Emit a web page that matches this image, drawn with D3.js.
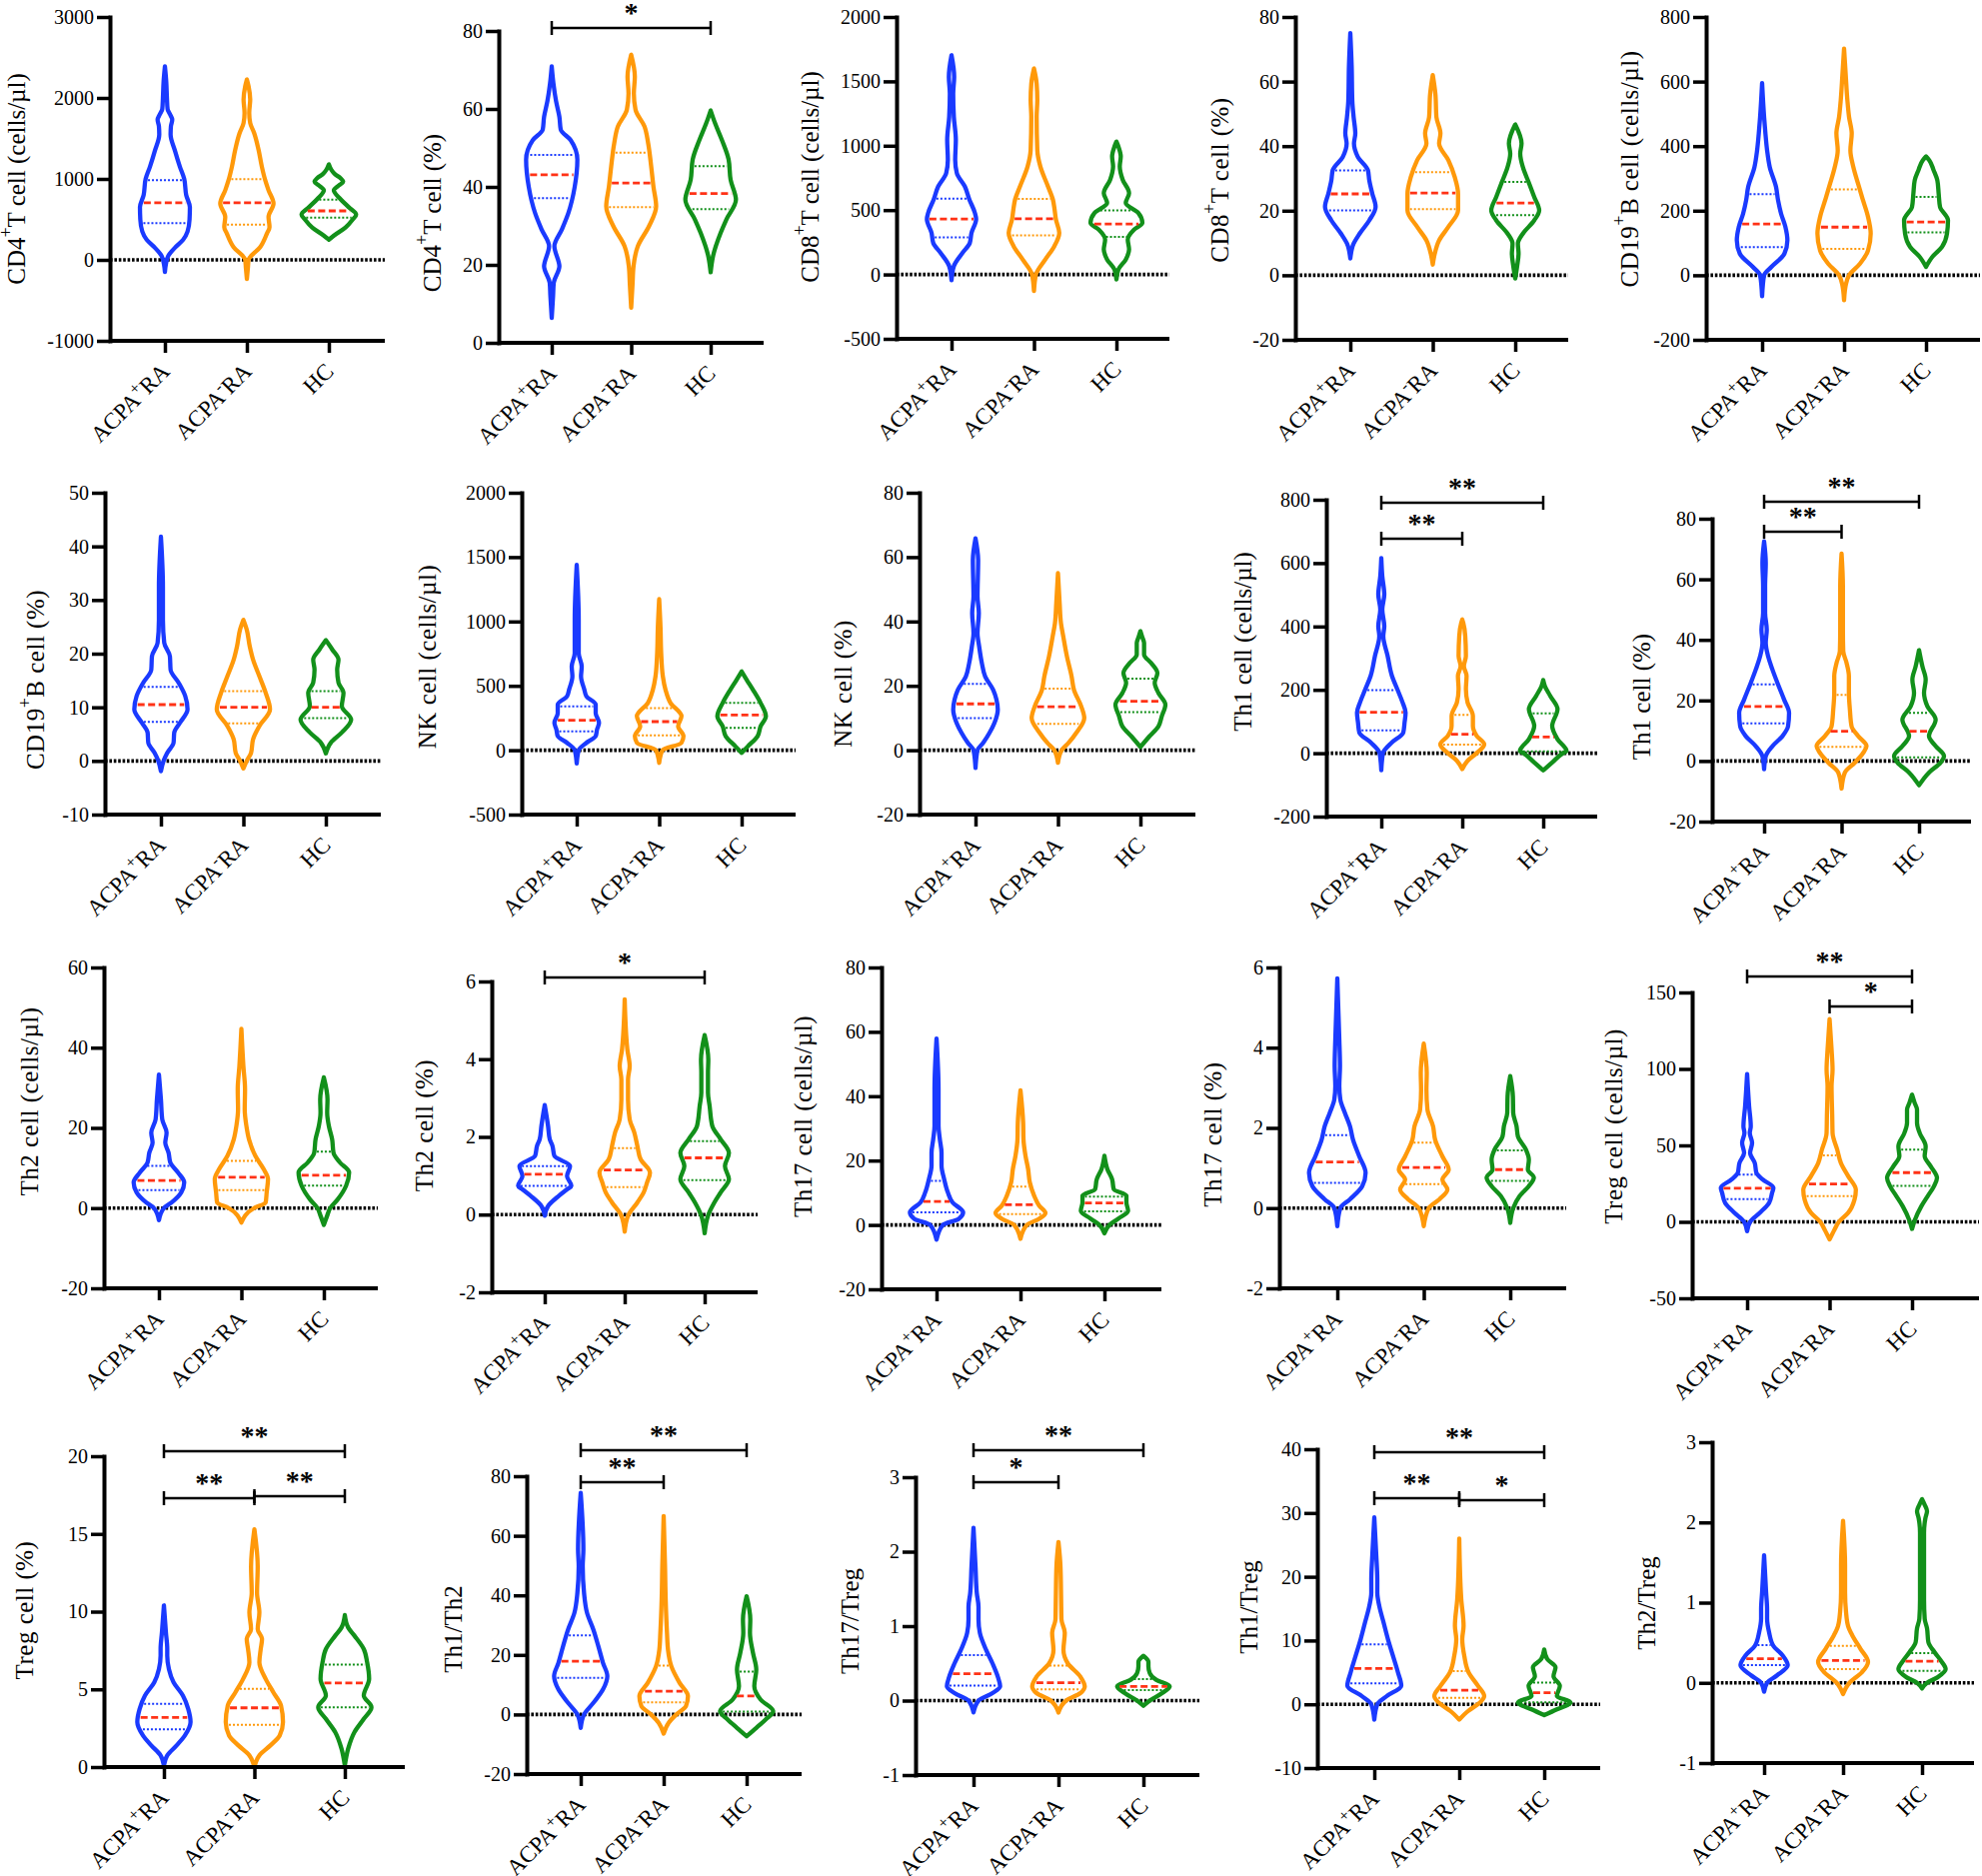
<!DOCTYPE html>
<html><head><meta charset="utf-8">
<script src="https://cdn.jsdelivr.net/npm/d3@7"></script>
<style>body{margin:0;background:#fff} svg{display:block}</style>
</head><body>
<svg id="chart" width="1983" height="1877"></svg>
<script>
// ---------------- DATA ----------------
const groups = ["ACPA+RA", "ACPA-RA", "HC"];
const groupLabels = ["ACPA^+^RA", "ACPA^-^RA", "HC"];

const yLabels = [
  "CD4^+^T cell (cells/µl)", "CD4^+^T cell (%)", "CD8^+^T cell (cells/µl)", "CD8^+^T cell (%)", "CD19^+^B cell (cells/µl)",
  "CD19^+^B cell (%)", "NK cell (cells/µl)", "NK cell (%)", "Th1 cell (cells/µl)", "Th1 cell (%)",
  "Th2 cell (cells/µl)", "Th2 cell (%)", "Th17 cell (cells/µl)", "Th17 cell (%)", "Treg cell (cells/µl)",
  "Treg cell (%)", "Th1/Th2", "Th17/Treg", "Th1/Treg", "Th2/Treg"
];

const yDomains = [
  [-1000, 3000], [0, 80], [-500, 2000], [-20, 80], [-200, 800],
  [-10, 50], [-500, 2000], [-20, 80], [-200, 800], [-20, 80],
  [-20, 60], [-2, 6], [-20, 80], [-2, 6], [-50, 150],
  [0, 20], [-20, 80], [-1, 3], [-10, 40], [-1, 3]
];

const yTickValues = [
  [-1000, 0, 1000, 2000, 3000], [0, 20, 40, 60, 80], [-500, 0, 500, 1000, 1500, 2000], [-20, 0, 20, 40, 60, 80], [-200, 0, 200, 400, 600, 800],
  [-10, 0, 10, 20, 30, 40, 50], [-500, 0, 500, 1000, 1500, 2000], [-20, 0, 20, 40, 60, 80], [-200, 0, 200, 400, 600, 800], [-20, 0, 20, 40, 60, 80],
  [-20, 0, 20, 40, 60], [-2, 0, 2, 4, 6], [-20, 0, 20, 40, 60, 80], [-2, 0, 2, 4, 6], [-50, 0, 50, 100, 150],
  [0, 5, 10, 15, 20], [-20, 0, 20, 40, 60, 80], [-1, 0, 1, 2, 3], [-10, 0, 10, 20, 30, 40], [-1, 0, 1, 2, 3]
];

// quartiles per panel: [q1, median, q3] for ACPA+RA, ACPA-RA, HC
const quartiles = [
  [[455, 705, 985], [435, 705, 998], [522, 605, 745]],
  [[37.1, 43.1, 48.2], [34.8, 41, 48.8], [34.3, 38.3, 45.3]],
  [[289, 431, 588], [304, 433, 586], [291, 392, 498]],
  [[20.1, 25.2, 32.5], [20.5, 25.5, 31.9], [18.6, 22.4, 28.9]],
  [[87, 159, 251], [82, 149, 266], [133, 165, 243]],
  [[7.3, 10.5, 13.8], [7, 10, 13], [8, 10, 13]],
  [[147, 233, 341], [116, 222, 326], [173, 274, 367]],
  [[10, 14.4, 20.6], [8.2, 13.5, 19.1], [11.8, 15.2, 22.2]],
  [[72, 129, 199], [27, 60, 121], [6, 51, 126]],
  [[12.4, 18, 25.3], [4.7, 9.8, 21.8], [1.2, 9.8, 15.9]],
  [[4.5, 6.9, 10.5], [4.5, 7.7, 11.8], [5.6, 8.2, 14.1]],
  [[0.74, 1.04, 1.25], [0.71, 1.15, 1.71], [0.89, 1.46, 1.89]],
  [[3.9, 7.3, 13.7], [3.4, 6.3, 11.9], [4.2, 6.8, 8.8]],
  [[0.63, 1.15, 1.82], [0.6, 1.01, 1.63], [0.68, 0.96, 1.44]],
  [[14.8, 22, 30.9], [16.8, 24.8, 43.5], [23.5, 32.2, 47.2]],
  [[2.42, 3.19, 4.06], [2.72, 3.81, 5.03], [3.85, 5.41, 6.59]],
  [[12.3, 17.9, 26.6], [4.1, 7.8, 16.4], [1, 6.2, 14.4]],
  [[0.2, 0.36, 0.61], [0.15, 0.24, 0.47], [0.14, 0.19, 0.29]],
  [[3.3, 5.6, 9.4], [1, 2.2, 5.2], [0.3, 1.8, 3.4]],
  [[0.22, 0.3, 0.47], [0.17, 0.28, 0.46], [0.15, 0.27, 0.37]]
];

// density profiles: [value, relative density]
const densCD4Count = [
  [[-150,0],[-50,3],[50,10],[150,30],[250,55],[350,68],[500,74],[650,75],[800,64],[1000,58],[1150,45],[1350,30],[1550,17],[1650,18],[1730,22],[1800,15],[1860,8],[2000,6],[2200,4],[2390,0]],
  [[-235,0],[-100,3],[0,5],[157,40],[323,60],[405,68],[530,65],[695,80],[860,65],[985,55],[1150,45],[1360,35],[1565,22],[1690,10],[1815,7],[1980,10],[2145,5],[2228,0]],
  [[250,0],[300,15],[400,50],[500,72],[560,82],[650,60],[750,35],[860,15],[920,30],[965,43],[1010,35],[1060,18],[1110,8],[1180,0]]
];
const densCD4Pct = [
  [[6.4,0],[12,4],[15.4,6],[19.6,23],[24.8,8],[29,30],[33.3,50],[40,69],[47,77],[52,57],[54.7,27],[58,23],[62,13],[66.6,5],[70.9,0]],
  [[9,0],[15,4],[19.6,7],[24.8,20],[30,54],[35,75],[40,67],[45.3,60],[51.2,51],[55.5,40],[59.8,13],[64,8],[68.3,11],[73.9,0]],
  [[18.1,0],[22.2,7],[28.2,30],[31.6,47],[36.7,76],[41.8,60],[47,54],[52,34],[56.4,13],[59.6,0]]
];
const densCD8Count = [
  [[-44,0],[65,7],[168,33],[245,55],[323,60],[430,74],[480,70],[580,54],[684,40],[787,16],[890,11],[1045,13],[1225,7],[1406,5],[1535,8],[1703,0]],
  [[-129,0],[0,6],[116,34],[219,61],[323,76],[426,66],[503,62],[580,57],[684,42],[840,19],[967,10],[1225,8],[1354,10],[1483,8],[1600,0]],
  [[-39,0],[39,6],[116,28],[194,38],[271,34],[348,53],[400,78],[477,66],[555,28],[632,38],[735,19],[840,10],[916,13],[993,6],[1032,0]]
];
const densCD8Pct = [
  [[5.2,0],[9.8,10],[12.9,28],[17,57],[21.2,76],[25.3,66],[29.4,57],[32.5,53],[36.6,23],[40.8,11],[43.9,15],[49,10],[54,6],[65,4],[75,0]],
  [[3.3,0],[6.7,6],[10.8,19],[15,47],[20.1,76],[25.3,76],[30.4,66],[35.6,47],[40.8,19],[43.9,23],[49,11],[56,8],[62,0]],
  [[-1,0],[3,6],[6.7,10],[9.8,8],[12.9,23],[17,57],[20.1,72],[24.3,57],[28.4,42],[33.5,23],[37.7,15],[40.8,19],[46.7,0]]
];
const densCD19Count = [
  [[-65,0],[0,6],[26,28],[67,67],[108,76],[150,70],[191,57],[232,48],[273,42],[335,23],[387,15],[439,10],[490,6],[595,0]],
  [[-77,0],[-26,6],[0,15],[36,48],[77,72],[129,80],[181,72],[232,57],[284,42],[335,28],[387,19],[439,23],[490,15],[542,10],[620,5],[702,0]],
  [[26,0],[57,19],[88,48],[129,63],[170,66],[212,42],[253,38],[294,34],[325,23],[356,10],[368,0]]
];
const densCD19Pct = [
  [[-1.9,0],[0,8],[1.5,19],[3.4,38],[5.3,40],[7.1,57],[9.6,80],[12.1,73],[14.6,53],[17,29],[19.5,27],[22,10],[26.3,6],[32.5,6],[41.8,0]],
  [[-1.4,0],[0,10],[1.5,23],[4,29],[6.5,48],[9.6,80],[12.7,67],[15.8,48],[18.9,29],[21.4,19],[24.5,10],[26.3,0]],
  [[1.4,0],[3.4,15],[5.3,48],[7.7,76],[10.2,48],[12.7,53],[14.6,38],[17,34],[18.9,38],[20.8,19],[22.5,0]]
];
const densNKCount = [
  [[-103,0],[0,6],[57,29],[109,57],[160,61],[212,67],[289,57],[354,57],[419,29],[470,23],[574,13],[651,15],[754,6],[1013,6],[1439,0]],
  [[-98,0],[0,10],[57,67],[109,73],[186,57],[264,67],[367,34],[470,19],[574,11],[754,6],[950,4],[1173,0]],
  [[-21,0],[31,19],[109,48],[186,57],[264,73],[367,57],[470,34],[548,15],[612,0]]
];
const densNKPct = [
  [[-5.5,0],[0,6],[2.3,23],[5.4,42],[8.5,57],[12.6,67],[15.7,63],[18.8,53],[22.9,29],[27.1,19],[32.2,11],[36.4,6],[42.6,10],[47.8,6],[59,8],[65.8,0]],
  [[-3.9,0],[0,11],[2.3,32],[5.4,55],[10,79],[13.6,70],[18.8,48],[22.9,41],[29.1,27],[35.3,16],[39.5,9],[45.7,5],[55,0]],
  [[1,0],[4.3,27],[7.4,54],[10.5,64],[14.2,75],[17.8,54],[20.9,43],[24,51],[27.1,32],[29.7,11],[33.3,11],[35.3,5],[37,0]]
];
const densTh1Count = [
  [[-54,0],[0,5],[34,32],[65,66],[97,70],[128,73],[160,64],[202,48],[244,32],[307,19],[370,6],[401,9],[454,3],[501,9],[559,3],[616,0]],
  [[-50,0],[-24,16],[0,43],[28,66],[55,43],[86,32],[118,32],[160,16],[202,11],[244,13],[275,5],[307,11],[370,9],[412,3],[422,0]],
  [[-54,0],[-29,27],[0,59],[7,70],[44,43],[86,27],[139,43],[181,21],[212,5],[231,0]]
];
const densTh1Pct = [
  [[-2.7,0],[1.6,5],[4.9,25],[8.2,55],[11.5,72],[15.9,75],[20.3,60],[25.8,40],[30.2,25],[34.6,12],[39,5],[43.4,8],[48.9,3],[57.7,3],[65.4,5],[72.5,0]],
  [[-9.1,0],[-3.8,10],[-0.5,40],[2.7,65],[4.9,75],[8.2,50],[11.5,30],[17,25],[22.5,22],[28,22],[32.4,15],[36.3,5],[43.4,4],[57.7,4],[68.5,0]],
  [[-8,0],[-3.8,30],[-0.5,65],[1.6,75],[4.9,50],[8.2,30],[13.7,50],[18.1,25],[22.5,15],[26.9,20],[31.3,10],[36.6,0]]
];
const densTh2Count = [
  [[-3,0],[0,15],[1.4,38],[3.9,67],[6.4,76],[8.9,57],[11.4,34],[13.8,29],[16.3,19],[18.8,23],[22.1,10],[27.1,6],[33.3,0]],
  [[-3.6,0],[0,38],[1.4,73],[3.9,76],[7.2,80],[9.7,67],[13,42],[17.1,23],[20.5,15],[24.6,10],[29.6,11],[35.4,6],[44.7,0]],
  [[-4.2,0],[-1.9,10],[0,19],[2.2,42],[5.6,67],[8.9,76],[11.4,48],[13.8,29],[17.1,25],[20.5,15],[23.8,10],[27.1,11],[32.6,0]]
];
const densTh2Pct = [
  [[-0.03,0],[0.22,10],[0.48,42],[0.65,67],[0.74,80],[0.99,67],[1.25,76],[1.51,29],[1.77,23],[1.94,15],[2.28,10],[2.82,0]],
  [[-0.44,0],[-0.03,10],[0.31,38],[0.57,57],[0.82,67],[1.08,76],[1.42,48],[1.77,38],[2.11,29],[2.45,15],[2.96,10],[3.48,10],[3.82,15],[4.25,8],[5.54,0]],
  [[-0.48,0],[-0.03,10],[0.31,29],[0.57,48],[0.91,73],[1.25,61],[1.59,73],[1.94,48],[2.28,23],[2.79,15],[3.14,10],[3.65,10],[3.99,11],[4.62,0]]
];
const densTh17Count = [
  [[-4.6,0],[0,19],[1.9,67],[3.9,80],[7,48],[10.1,34],[14.2,23],[18.4,15],[22.5,15],[26.6,10],[30.8,6],[42.1,6],[57.9,0]],
  [[-4.3,0],[0,19],[1.9,56],[3.7,75],[6,56],[9.1,41],[13.2,28],[17.3,23],[21.5,15],[26.6,9],[31.8,8],[41.8,0]],
  [[-2.6,0],[0,15],[1.9,41],[4.4,71],[7,66],[9.1,66],[11.1,28],[14.2,23],[17.3,9],[21.5,0]]
];
const densTh17Pct = [
  [[-0.45,0],[0,9],[0.22,38],[0.55,75],[0.88,85],[1.29,66],[1.71,47],[2.04,38],[2.37,23],[2.71,9],[3.04,6],[3.54,8],[4.2,6],[5.73,0]],
  [[-0.45,0],[0,15],[0.22,47],[0.46,71],[0.71,56],[0.96,75],[1.29,56],[1.71,34],[2.04,28],[2.46,11],[2.95,8],[3.37,9],[4.1,0]],
  [[-0.37,0],[0,9],[0.3,28],[0.55,56],[0.76,71],[0.96,53],[1.21,56],[1.46,47],[1.79,23],[2.04,19],[2.37,9],[2.79,8],[3.29,0]]
];
const densTregCount = [
  [[-6.1,0],[0,9],[5.9,38],[12.4,66],[18.9,75],[22.2,79],[27.7,47],[32,28],[38.5,23],[45.1,9],[51.6,15],[58.1,8],[62.5,11],[75.6,6],[96.7,0]],
  [[-11.5,0],[-5,15],[0,28],[5.9,56],[14.6,75],[21.1,79],[29.8,56],[38.5,34],[47.2,23],[58.1,9],[69,8],[88.6,6],[99.5,9],[112.6,6],[132.6,0]],
  [[-4.6,0],[1.5,9],[10.2,28],[16.8,47],[23.3,66],[28.7,75],[36.4,56],[42.9,38],[49.4,41],[58.1,23],[64.7,15],[73.4,15],[77.7,8],[83.2,0]]
];
const densTregPct = [
  [[0.1,0],[0.75,10],[1.39,38],[2.03,63],[2.89,80],[3.74,73],[4.6,57],[5.45,29],[6.31,15],[7.17,10],[7.6,10],[8.66,6],[10.4,0]],
  [[0,0],[0.75,15],[1.39,48],[2.03,76],[2.89,86],[3.96,80],[4.81,57],[5.67,34],[6.74,15],[7.59,19],[8.24,23],[8.88,10],[9.95,15],[11.2,8],[12.9,10],[15.3,0]],
  [[0.1,0],[1.18,10],[2.25,29],[3.1,57],[3.85,80],[4.6,57],[5.67,73],[6.74,67],[7.59,57],[8.45,29],[8.98,10],[9.78,0]]
];
const densTh1Th2 = [
  [[-4.5,0],[0,10],[3.9,38],[8.4,67],[12.9,80],[17.3,67],[22.9,53],[28.5,38],[34.1,19],[40.8,10],[49.8,6],[55.4,8],[74.4,0]],
  [[-6.4,0],[-2.8,15],[0,38],[2.8,67],[6.2,73],[10.6,48],[16.2,23],[21.8,13],[27.4,10],[38.6,6],[50,4],[66.6,0]],
  [[-7.3,0],[-4.5,29],[-1.7,57],[1.1,80],[5,42],[9.5,23],[15.1,29],[20.7,19],[27.4,10],[31.9,11],[39.7,0]]
];
const densTh17Treg = [
  [[-0.16,0],[0,15],[0.1,57],[0.19,80],[0.32,73],[0.5,57],[0.68,38],[0.91,19],[1.09,15],[1.26,15],[1.44,10],[1.8,6],[2.32,0]],
  [[-0.16,0],[0,23],[0.1,66],[0.19,79],[0.32,66],[0.5,28],[0.68,15],[0.91,19],[1.09,9],[1.35,8],[1.8,6],[2.13,0]],
  [[-0.07,0],[0,19],[0.1,56],[0.19,79],[0.28,38],[0.37,19],[0.46,15],[0.52,15],[0.6,0]]
];
const densTh1Treg = [
  [[-2.4,0],[0,9],[1.3,38],[2.9,81],[5,71],[7.6,56],[10.2,41],[12.8,28],[15.4,15],[17.5,9],[19.6,9],[23.3,6],[29.3,0]],
  [[-2.4,0],[-1,28],[0,56],[1.3,75],[2.9,56],[5,28],[7.6,15],[10.2,9],[12.3,13],[16.5,6],[26,0]],
  [[-1.7,0],[-0.8,38],[0.3,79],[1.3,38],[2.9,47],[4.4,28],[5.8,34],[7.1,9],[8.6,0]]
];
const densTh2Treg = [
  [[-0.11,0],[0,9],[0.09,38],[0.22,71],[0.34,56],[0.46,28],[0.63,15],[0.8,9],[0.92,9],[1.13,6],[1.59,0]],
  [[-0.14,0],[0,19],[0.13,56],[0.26,75],[0.42,53],[0.59,28],[0.71,15],[0.88,9],[1.13,6],[1.46,6],[2.02,0]],
  [[-0.07,0],[0,15],[0.07,47],[0.17,71],[0.28,56],[0.38,38],[0.51,19],[0.68,15],[0.8,8],[1.04,6],[1.87,6],[2.05,10],[2.14,15],[2.22,8],[2.29,0]]
];

const profiles = [
  densCD4Count, densCD4Pct, densCD8Count, densCD8Pct, densCD19Count,
  densCD19Pct, densNKCount, densNKPct, densTh1Count, densTh1Pct,
  densTh2Count, densTh2Pct, densTh17Count, densTh17Pct, densTregCount,
  densTregPct, densTh1Th2, densTh17Treg, densTh1Treg, densTh2Treg
];

// significance brackets: [groupIndexA, groupIndexB, label]
const significance = [
  [], [[0, 2, "*"]], [], [], [],
  [], [], [], [[0, 2, "**"], [0, 1, "**"]], [[0, 2, "**"], [0, 1, "**"]],
  [], [[0, 2, "*"]], [], [], [[0, 2, "**"], [1, 2, "*"]],
  [[0, 2, "**"], [0, 1, "**"], [1, 2, "**"]], [[0, 2, "**"], [0, 1, "**"]], [[0, 2, "**"], [0, 1, "*"]],
  [[0, 2, "**"], [0, 1, "**"], [1, 2, "*"]], []
];

// ---------------- LAYOUT / STYLE ----------------
const colors = ["#1a3aff", "#ff990a", "#12901a"];
const medianColor = "#ff3216";
const FONT = '"Liberation Serif","Times New Roman",Times,serif';

const layout = [
  {ax:110, xEnd:385, c1:165, c3:329, yTop:17, yBot:341, lx:16, ly:179, ls:0, bY:[]},
  {ax:499, xEnd:764, c1:552, c3:711, yTop:31, yBot:343, lx:432, ly:213, ls:0, bY:[28]},
  {ax:897, xEnd:1170, c1:952, c3:1117, yTop:17, yBot:339, lx:810, ly:177, ls:0, bY:[]},
  {ax:1296, xEnd:1569, c1:1351, c3:1516, yTop:17, yBot:340, lx:1220, ly:180, ls:0.5, bY:[]},
  {ax:1707, xEnd:1981, c1:1763, c3:1927, yTop:17, yBot:340, lx:1630, ly:169, ls:0.5, bY:[]},
  {ax:105, xEnd:381, c1:161, c3:326, yTop:493, yBot:815, lx:35, ly:680, ls:0.5, bY:[]},
  {ax:522, xEnd:796, c1:577, c3:742, yTop:493, yBot:815, lx:427, ly:657, ls:0.5, bY:[]},
  {ax:920, xEnd:1196, c1:976, c3:1141, yTop:493, yBot:815, lx:843, ly:684, ls:0.5, bY:[]},
  {ax:1327, xEnd:1598, c1:1382, c3:1544, yTop:500, yBot:817, lx:1243, ly:642, ls:0, bY:[503, 539]},
  {ax:1713, xEnd:1972, c1:1765, c3:1920, yTop:519, yBot:822, lx:1642, ly:697, ls:0, bY:[502, 532]},
  {ax:104, xEnd:378, c1:159, c3:324, yTop:968, yBot:1289, lx:29, ly:1102, ls:0.5, bY:[]},
  {ax:492, xEnd:758, c1:545, c3:705, yTop:982, yBot:1293, lx:424, ly:1126, ls:0.5, bY:[978]},
  {ax:882, xEnd:1162, c1:937, c3:1105, yTop:968, yBot:1290, lx:803, ly:1117, ls:0.5, bY:[]},
  {ax:1280, xEnd:1567, c1:1338, c3:1511, yTop:968, yBot:1289, lx:1213, ly:1135, ls:0.5, bY:[]},
  {ax:1693, xEnd:1980, c1:1748, c3:1913, yTop:993, yBot:1299, lx:1614, ly:1127, ls:0.5, bY:[977, 1007]},
  {ax:104, xEnd:405, c1:164, c3:345, yTop:1457, yBot:1768, lx:24, ly:1611, ls:0.5, bY:[1452, 1499, 1497]},
  {ax:527, xEnd:802, c1:581, c3:747, yTop:1477, yBot:1775, lx:453, ly:1630, ls:0, bY:[1451, 1483]},
  {ax:916, xEnd:1200, c1:974, c3:1144, yTop:1478, yBot:1776, lx:850, ly:1622, ls:0, bY:[1451, 1483]},
  {ax:1318, xEnd:1601, c1:1375, c3:1545, yTop:1450, yBot:1769, lx:1249, ly:1608, ls:0, bY:[1453, 1499, 1501]},
  {ax:1713, xEnd:1975, c1:1765, c3:1923, yTop:1443, yBot:1764, lx:1647, ly:1604, ls:0, bY:[]}
];

// ---------------- DRAW ----------------
const svg = d3.select("#chart");
svg.append("rect").attr("width", 1983).attr("height", 1877).attr("fill", "#fff");

const densityScale = d3.scaleLinear().domain([0, 100]).range([0, 33.3]);

function richText(sel, str, fs) {
  const parts = str.split("^");
  let prevSup = false;
  parts.forEach((p, i) => {
    const isSup = i % 2 === 1;
    if (p === "") return;
    const t = sel.append("tspan").text(p);
    if (isSup) {
      t.attr("font-size", fs * 0.72).attr("dy", -fs * 0.4);
      prevSup = true;
    } else if (prevSup) {
      t.attr("dy", fs * 0.4);
      prevSup = false;
    }
  });
}

function densityAt(prof, v) {
  for (let k = 0; k < prof.length - 1; k++) {
    const a = prof[k], b = prof[k + 1];
    if (v >= a[0] && v <= b[0]) {
      const t = (v - a[0]) / (b[0] - a[0]);
      return a[1] + t * (b[1] - a[1]);
    }
  }
  return 0;
}

layout.forEach((L, i) => {
  const g = svg.append("g");
  const y = d3.scaleLinear().domain(yDomains[i]).range([L.yBot, L.yTop]);
  const x = d3.scalePoint().domain(groups).range([L.c1, L.c3]);

  // dotted zero line
  g.append("line")
    .attr("x1", L.ax).attr("x2", L.xEnd).attr("y1", y(0)).attr("y2", y(0))
    .attr("stroke", "#000").attr("stroke-width", 3.6).attr("stroke-dasharray", "2.6,1.8");

  // violins
  groups.forEach((grp, j) => {
    const prof = profiles[i][j];
    const cx = x(grp);
    const area = d3.area().curve(d3.curveMonotoneY)
      .y(p => y(p[0]))
      .x0(p => cx - densityScale(p[1]))
      .x1(p => cx + densityScale(p[1]));
    g.append("path").attr("d", area(prof))
      .attr("fill", "none").attr("stroke", colors[j]).attr("stroke-width", 4.3)
      .attr("stroke-linejoin", "round").attr("stroke-linecap", "round");

    const q = quartiles[i][j];
    [q[0], q[2]].forEach(v => {
      const w = Math.max(densityScale(densityAt(prof, v)) - 2.5, 2);
      g.append("line").attr("x1", cx - w).attr("x2", cx + w).attr("y1", y(v)).attr("y2", y(v))
        .attr("stroke", colors[j]).attr("stroke-width", 2).attr("stroke-dasharray", "2,2");
    });
    const wm = Math.max(densityScale(densityAt(prof, q[1])) - 2.5, 2);
    g.append("line").attr("x1", cx - wm).attr("x2", cx + wm).attr("y1", y(q[1])).attr("y2", y(q[1]))
      .attr("stroke", medianColor).attr("stroke-width", 2.8).attr("stroke-dasharray", "7,3.5");
  });

  // y axis
  const yAxis = d3.axisLeft(y).tickValues(yTickValues[i]).tickSize(13).tickSizeOuter(0)
    .tickPadding(3).tickFormat(d => String(d));
  const ya = g.append("g").attr("transform", `translate(${L.ax},0)`).call(yAxis);
  ya.select(".domain").attr("stroke-width", 4).attr("stroke-linecap", "square");
  ya.selectAll(".tick line").attr("stroke-width", 3.5);
  ya.selectAll(".tick text").attr("font-family", FONT).attr("font-size", 20).attr("fill", "#000");

  // x axis
  g.append("line").attr("x1", L.ax).attr("x2", L.xEnd).attr("y1", L.yBot).attr("y2", L.yBot)
    .attr("stroke", "#000").attr("stroke-width", 4);
  const xAxis = d3.axisBottom(x).tickSize(12).tickSizeOuter(0).tickFormat("");
  const xa = g.append("g").attr("transform", `translate(0,${L.yBot})`).call(xAxis);
  xa.select(".domain").remove();
  xa.selectAll(".tick line").attr("stroke-width", 3.5);

  // category labels
  groups.forEach((grp, j) => {
    const t = g.append("text")
      .attr("transform", `translate(${x(grp) + 6},${L.yBot + 32}) rotate(-45)`)
      .attr("text-anchor", "end").attr("font-family", FONT).attr("font-size", 23).attr("fill", "#000");
    richText(t, groupLabels[j], 23);
  });

  // y label
  const yl = g.append("text")
    .attr("transform", `translate(${L.lx},${L.ly}) rotate(-90)`)
    .attr("text-anchor", "middle").attr("dominant-baseline", "central")
    .attr("font-family", FONT).attr("font-size", 25).attr("fill", "#000")
    .attr("letter-spacing", L.ls);
  richText(yl, yLabels[i], 25);

  // significance brackets
  significance[i].forEach((s, k) => {
    const xa1 = x(groups[s[0]]), xb1 = x(groups[s[1]]), yb = L.bY[k];
    g.append("line").attr("x1", xa1).attr("x2", xb1).attr("y1", yb).attr("y2", yb)
      .attr("stroke", "#000").attr("stroke-width", 2.5);
    [xa1, xb1].forEach(xx => g.append("line").attr("x1", xx).attr("x2", xx)
      .attr("y1", yb - 7).attr("y2", yb + 7).attr("stroke", "#000").attr("stroke-width", 2.5));
    g.append("text").attr("x", (xa1 + xb1) / 2).attr("y", yb - 6)
      .attr("text-anchor", "middle").attr("font-family", FONT).attr("font-weight", "bold")
      .attr("font-size", 28).attr("fill", "#000").text(s[2]);
  });
});
</script>
</body></html>
